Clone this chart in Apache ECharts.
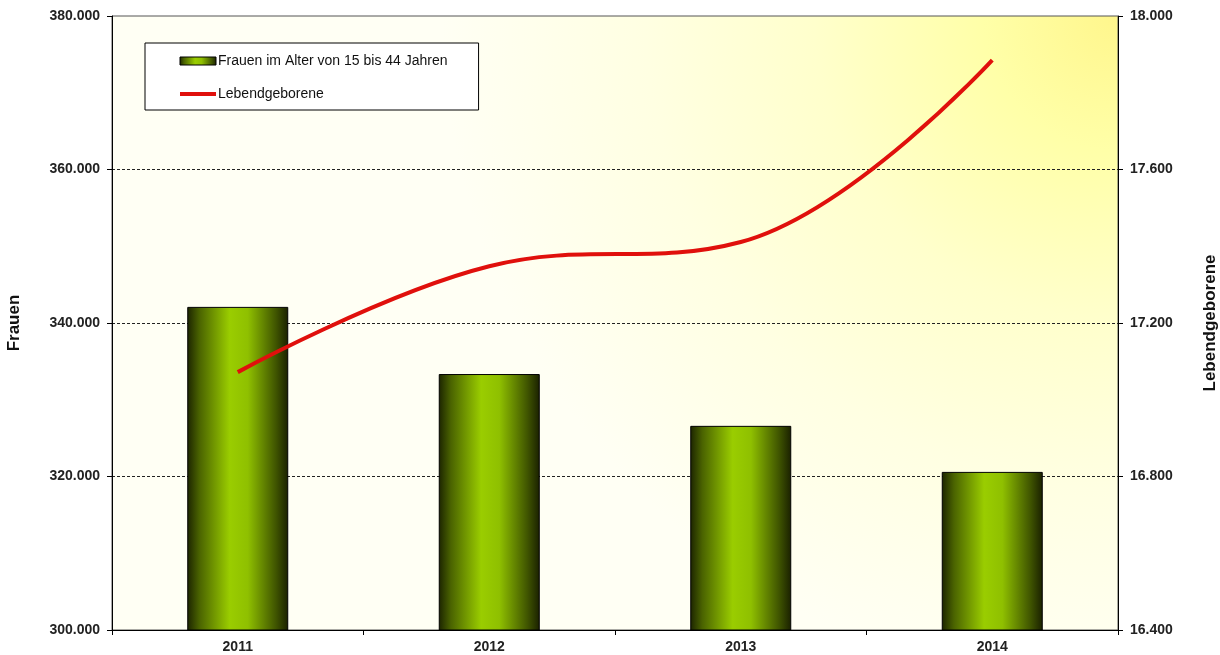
<!DOCTYPE html>
<html>
<head>
<meta charset="utf-8">
<script src="https://cdn.jsdelivr.net/npm/echarts@6/dist/echarts.min.js"></script>
<style>
  html, body { margin: 0; padding: 0; background: #ffffff; }
  #chart { width: 1220px; height: 655px; }
</style>
</head>
<body>
<div id="chart"></div>
<script>
// ---- data ----
const years = ['2011', '2012', '2013', '2014'];
const frauen = [342100, 333350, 326600, 320600];
const lebendgeborene = [17072, 17348, 17411, 17885];
const seriesNames = ['Frauen im Alter von 15 bis 44 Jahren', 'Lebendgeborene'];
const axisNames = ['Frauen', 'Lebendgeborene'];

function fmt(v) {
  const s = String(Math.round(v));
  return s.replace(/\B(?=(\d{3})+(?!\d))/g, '.');
}

const chart = echarts.init(document.getElementById('chart'), null, { renderer: 'canvas' });

const barGradient = new echarts.graphic.LinearGradient(0, 0, 1, 0, [
  { offset: 0, color: '#1c2400' },
  { offset: 0.12, color: '#4a6300' },
  { offset: 0.42, color: '#9acd00' },
  { offset: 0.6, color: '#8fc000' },
  { offset: 0.88, color: '#3f5400' },
  { offset: 1, color: '#1a2000' }
]);

const bgGradient = new echarts.graphic.RadialGradient(1, 0, 1.1, [
  { offset: 0, color: '#fff68c' },
  { offset: 0.2, color: '#ffffa8' },
  { offset: 0.45, color: '#ffffcc' },
  { offset: 0.7, color: '#ffffe2' },
  { offset: 1, color: '#fffff4' }
]);

const labelFont = { fontFamily: 'Liberation Sans, Arial, sans-serif', fontWeight: 'bold', fontSize: 14, color: '#222' };

chart.setOption({
  animation: false,
  backgroundColor: '#ffffff',
  grid: {
    left: 112, right: 102, top: 16, bottom: 25,
    outerBoundsMode: 'none',
    containLabel: false,
    show: true,
    backgroundColor: bgGradient,
    borderColor: '#555',
    borderWidth: 1
  },
  legend: {
    left: 145, top: 43,
    orient: 'vertical',
    backgroundColor: '#ffffff',
    borderColor: '#000',
    borderWidth: 1,
    padding: [11, 31, 9, 33],
    itemGap: 19,
    itemWidth: 36,
    itemHeight: 8,
    textStyle: { fontFamily: 'Liberation Sans, Arial, sans-serif', fontSize: 14, color: '#111', padding: [0, 0, 0, -3] },
    data: [
      { name: seriesNames[0], icon: 'rect', itemStyle: { borderColor: '#000', borderWidth: 1 } },
      { name: seriesNames[1], itemStyle: { opacity: 0 }, lineStyle: { width: 4, color: '#e0100c' } }
    ]
  },
  xAxis: {
    type: 'category',
    data: years,
    boundaryGap: true,
    axisLine: { lineStyle: { color: '#000', width: 1 } },
    axisTick: { show: true, alignWithLabel: false, length: 5, lineStyle: { color: '#000' } },
    axisLabel: Object.assign({ margin: 10 }, labelFont)
  },
  yAxis: [
    {
      type: 'value',
      min: 300000, max: 380000, interval: 20000,
      position: 'left',
      name: axisNames[0],
      nameLocation: 'middle',
      nameGap: 89,
      nameTextStyle: { fontFamily: 'Liberation Sans, Arial, sans-serif', fontWeight: 'bold', fontSize: 17, color: '#111' },
      axisLine: { show: true, lineStyle: { color: '#000', width: 1 } },
      axisTick: { show: true, length: 5, lineStyle: { color: '#000' } },
      axisLabel: Object.assign({ margin: 12, formatter: fmt }, labelFont),
      splitLine: { show: true, lineStyle: { color: ['transparent', '#222', '#222', '#222', 'transparent'], type: [3, 2], width: 1 } }
    },
    {
      type: 'value',
      min: 16400, max: 18000, interval: 400,
      position: 'right',
      name: axisNames[1],
      nameLocation: 'middle',
      nameGap: 84,
      nameTextStyle: { fontFamily: 'Liberation Sans, Arial, sans-serif', fontWeight: 'bold', fontSize: 17, color: '#111' },
      axisLine: { show: true, lineStyle: { color: '#000', width: 1 } },
      axisTick: { show: true, length: 5, lineStyle: { color: '#000' } },
      axisLabel: Object.assign({ margin: 12, formatter: fmt }, labelFont),
      splitLine: { show: false }
    }
  ],
  series: [
    {
      name: seriesNames[0],
      type: 'bar',
      yAxisIndex: 0,
      data: frauen,
      barWidth: 101,
      itemStyle: { color: barGradient, borderColor: '#000', borderWidth: 1 }
    },
    {
      name: seriesNames[1],
      type: 'line',
      yAxisIndex: 1,
      data: lebendgeborene,
      smooth: 0.4,
      symbol: 'none',
      lineStyle: { color: '#e0100c', width: 4 },
      itemStyle: { color: '#e0100c' },
      z: 5
    }
  ]
});
</script>
</body>
</html>
